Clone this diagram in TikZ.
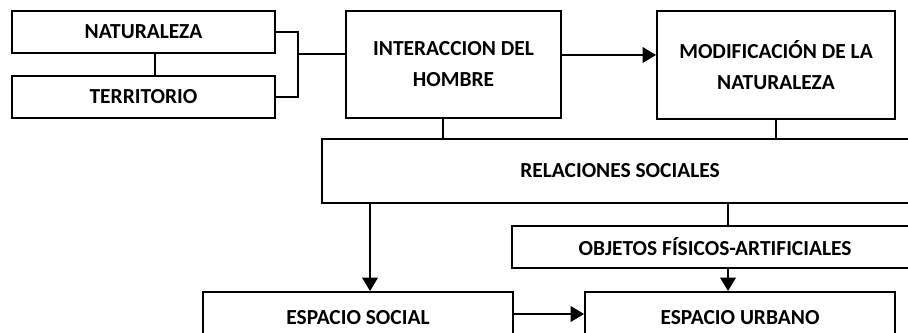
\documentclass[tikz,border=0pt]{standalone}
\usepackage{fontspec}
\setmainfont{Carlito}
\usetikzlibrary{arrows.meta}
\usetikzlibrary{calc}

\tikzset{
  box/.style={draw, line width=1.1pt, inner sep=0pt, align=center,
    font=\fontsize{12.2}{17.6}\selectfont\bfseries},
  link/.style={line width=1.1pt},
  arr/.style={line width=1.1pt, -{Triangle[length=7.6pt,width=8.8pt]}}
}

\begin{document}
\begin{tikzpicture}[x=0.02cm, y=-0.02cm]

% page
\clip (0,0) rectangle (908,332);

% upper row
\node[box, minimum width=5.26cm, minimum height=0.84cm] (nat) at (143.5,32) {NATURALEZA};
\node[box, minimum width=5.26cm, minimum height=0.84cm] (ter) at (143.5,97) {TERRITORIO};
\node[box, minimum width=4.30cm, minimum height=2.14cm] (int) at (453.5,64.5) {INTERACCION DEL\\HOMBRE};
\node[box, minimum width=4.76cm, minimum height=2.16cm] (mod) at (776,65) {MODIFICACIÓN DE LA\\NATURALEZA};

% middle
\node[box, minimum width=11.92cm, minimum height=1.28cm] (rel) at (620,171) {RELACIONES SOCIALES};
\node[box, minimum width=8.12cm, minimum height=0.84cm] (obj) at (715,247) {OBJETOS FÍSICOS-ARTIFICIALES};

% lower row
\node[box, minimum width=6.2cm, minimum height=1.02cm] (soc) at (358,317.5) {ESPACIO SOCIAL};
\node[box, minimum width=6.2cm, minimum height=1.02cm] (urb) at (740,317.5) {ESPACIO URBANO};

% bracket
\coordinate (br) at (298,54);
\draw[link] (nat.east) -- (nat.east -| br) -- (ter.east -| br) -- (ter.east);
\draw[link] (br) -- (br -| int.west);
\draw[link] ($(nat.south)+(11.5,0)$) -- ($(ter.north)+(11.5,0)$);

%%% arrows
\coordinate (a1) at (0,55);
\draw[arr] (a1 -| int.east) -- (a1 -| mod.west);
\coordinate (k1) at (443,0);
\coordinate (k2) at (776,0);
\draw[link] (k1 |- int.south) -- (k1 |- rel.north);
\draw[link] (k2 |- mod.south) -- (k2 |- rel.north);
\coordinate (k3) at (370,0);
\coordinate (k4) at (728,0);
\draw[arr] (k3 |- rel.south) -- (k3 |- soc.north);
\draw[link] (k4 |- rel.south) -- (k4 |- obj.north);
\draw[arr] (k4 |- obj.south) -- (k4 |- urb.north);
\coordinate (a2) at (0,314);
\draw[arr] (a2 -| soc.east) -- (a2 -| urb.west);

\end{tikzpicture}
\end{document}
